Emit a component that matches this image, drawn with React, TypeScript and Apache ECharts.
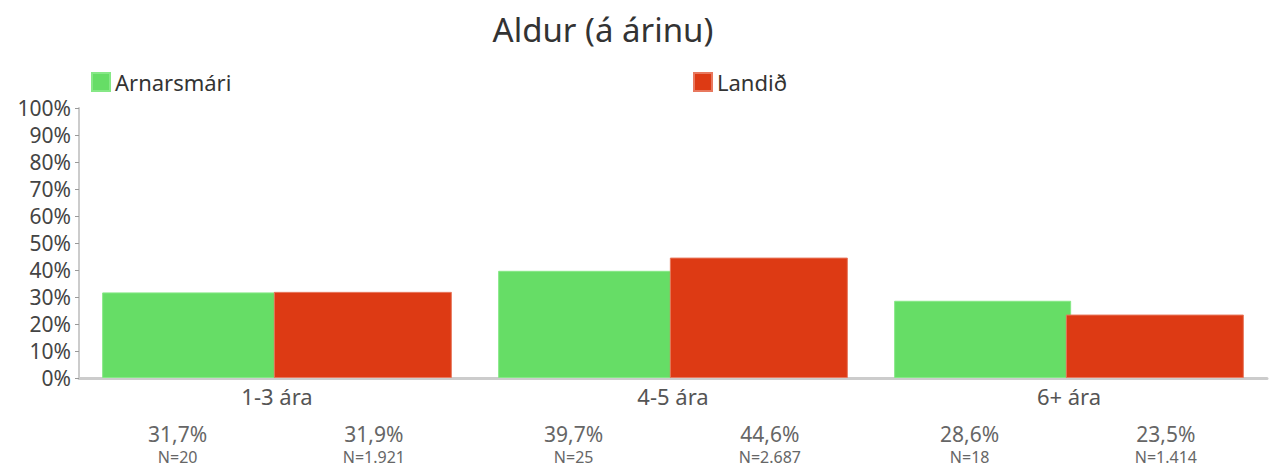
import React, { useEffect, useRef } from "react";
import * as echarts from "echarts";

const categories = ["1-3 ára", "4-5 ára", "6+ ára"];
const seriesNames = ["Arnarsmári", "Landið"];
const arnarsmari = [31.7, 39.7, 28.6];
const landid = [31.9, 44.6, 23.5];
const nArnarsmari = [20, 25, 18];
const nLandid = [1921, 2687, 1414];
const yTicks = [0, 10, 20, 30, 40, 50, 60, 70, 80, 90, 100];

const FONT = "'Noto Sans'";
const FW = "normal";

function fmtPct(v: number) {
  return v.toFixed(1).replace(".", ",") + "%";
}
function fmtN(n: number) {
  return "N=" + String(n).replace(/\B(?=(\d{3})+(?!\d))/g, ".");
}

function makeLabel(ns: number[], dx: number) {
  return {
    show: true,
    position: "bottom",
    distance: 43,
    offset: [dx, 0],
    formatter: (p: any) => `{p|${fmtPct(p.value)}}\n{n|${fmtN(ns[p.dataIndex])}}`,
    rich: {
      p: { fontSize: 21, color: "#666", lineHeight: 26, fontFamily: FONT, fontWeight: FW, align: "center" },
      n: { fontSize: 16, color: "#666", lineHeight: 20, fontFamily: FONT, fontWeight: FW, align: "center" },
    },
  };
}

export default function App() {
  const ref = useRef<HTMLDivElement>(null);
  useEffect(() => {
    const chart = echarts.init(ref.current!, null, { renderer: "svg" });
    chart.setOption({
      animation: false,
      textStyle: { fontFamily: FONT },
      title: {
        text: "Aldur (á árinu)",
        left: 598,
        textAlign: "center",
        top: 8,
        textStyle: { fontSize: 33, fontWeight: FW, color: "#333", fontFamily: FONT },
      },
      legend: [
        {
          data: [seriesNames[0]],
          left: 86,
          top: 66,
          icon: "rect",
          itemWidth: 18,
          itemHeight: 18,
          itemGap: 8,
          textStyle: { fontSize: 22, color: "#333", fontFamily: FONT, fontWeight: FW },
        },
        {
          data: [seriesNames[1]],
          left: 688,
          top: 66,
          icon: "rect",
          itemWidth: 18,
          itemHeight: 18,
          itemGap: 8,
          textStyle: { fontSize: 22, color: "#333", fontFamily: FONT, fontWeight: FW },
        },
      ],
      grid: { left: 79, right: 5, top: 108, bottom: 90, containLabel: false },
      xAxis: {
        type: "category",
        data: categories,
        axisLine: { lineStyle: { color: "#cccccc", width: 3 } },
        axisTick: { show: false },
        axisLabel: { fontSize: 22, color: "#555", margin: 7, fontFamily: FONT, fontWeight: FW },
      },
      yAxis: {
        type: "value",
        min: 0,
        max: 100,
        interval: 10,
        axisLine: { show: true, lineStyle: { color: "#cccccc", width: 2 } },
        axisTick: { show: true, length: 4, lineStyle: { color: "#999" } },
        splitLine: { show: false },
        axisLabel: {
          fontSize: 21,
          lineHeight: 22,
          color: "#444",
          margin: 8,
          fontFamily: FONT,
          fontWeight: FW,
          formatter: (v: number) => (yTicks.includes(v) ? v + "%" : ""),
        },
      },
      series: [
        {
          name: seriesNames[0],
          type: "bar",
          data: arnarsmari,
          barWidth: 177,
          barGap: "-3%",
          itemStyle: { color: "#66dd66", borderColor: "#86e886", borderWidth: 1 },
          label: makeLabel(nArnarsmari, -13),
        },
        {
          name: seriesNames[1],
          type: "bar",
          data: landid,
          barWidth: 178,
          itemStyle: { color: "#dd3a14", borderColor: "#e8785e", borderWidth: 1 },
          label: makeLabel(nLandid, 11),
        },
      ],
    });
    return () => chart.dispose();
  }, []);
  return (
    <div
      ref={ref}
      style={{ position: "absolute", left: 0, top: 0, width: 1272, height: 468, background: "#fff" }}
    />
  );
}
